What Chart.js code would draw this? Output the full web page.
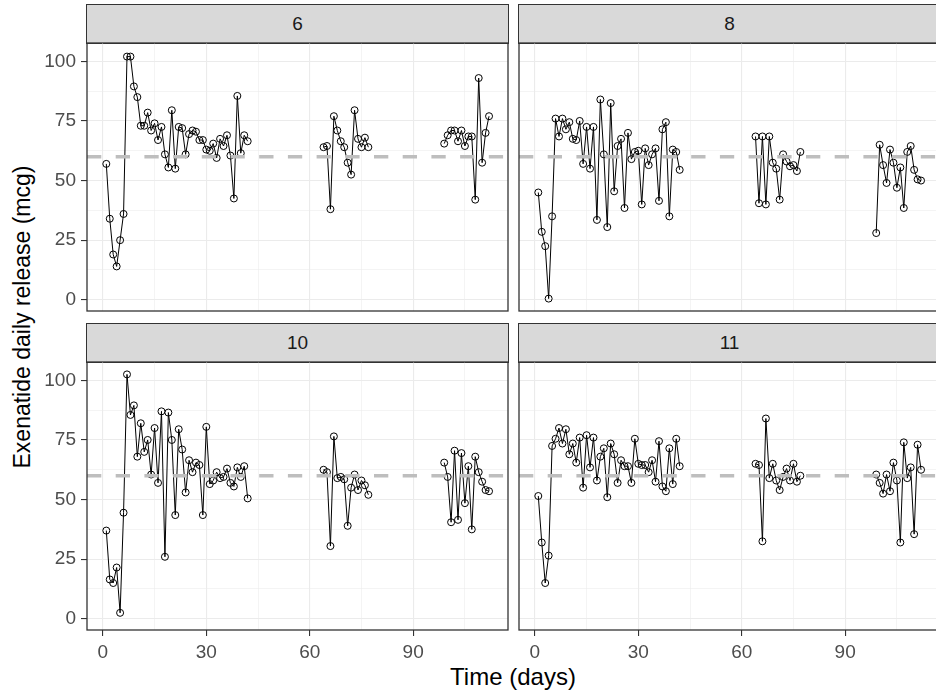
<!DOCTYPE html>
<html>
<head>
<meta charset="utf-8">
<script src="https://cdn.jsdelivr.net/npm/chart.js@4.4.1/dist/chart.umd.min.js"></script>
<style>
  body { margin: 0; width: 936px; height: 690px; overflow: hidden; background: #fff; position: relative;
         font-family: 'Liberation Sans', Arial, sans-serif; }
  .strip { position: absolute; box-sizing: border-box; background: #D9D9D9; border: 1.3px solid #333333;
           color: #1A1A1A; font-size: 19px; display: flex; align-items: center; justify-content: center; }
  canvas { position: absolute; }
  #xtitle { position: absolute; left: 513px; top: 663px; transform: translateX(-50%); font-size: 24px; color: #000; white-space: nowrap; }
  #ytitle { position: absolute; left: 22px; top: 317px; transform: translate(-50%, -50%) rotate(-90deg); font-size: 23px; color: #000; white-space: nowrap; }
</style>
</head>
<body>
<div id="xtitle">Time (days)</div>
<div id="ytitle">Exenatide daily release (mcg)</div>
<script>
// sampling days (three release periods)
const days = [1, 2, 3, 4, 5, 6, 7, 8, 9, 10, 11, 12, 13, 14, 15, 16, 17, 18, 19, 20, 21,
              22, 23, 24, 25, 26, 27, 28, 29, 30, 31, 32, 33, 34, 35, 36, 37, 38, 39, 40, 41, 42,
              64, 65, 66, 67, 68, 69, 70, 71, 72, 73, 74, 75, 76, 77,
              99, 100, 101, 102, 103, 104, 105, 106, 107, 108, 109, 110, 111, 112];

const panelIds = ['6', '8', '10', '11'];

const release6 = [57, 34, 19, 14, 25, 36, 102, 102, 89.5, 85,
                  73, 73, 78.5, 71, 74, 67, 72.5, 61, 55.5, 79.5,
                  55, 72.5, 72, 61, 69.5, 71, 70.5, 67, 67, 63,
                  62.5, 65.5, 59.5, 67.5, 64.5, 69, 60.5, 42.5, 85.5, 61.5, 69, 66.5,
                  64, 64.5, 38, 77, 71, 66.5, 64, 57.5, 52.5, 79.5, 67.5, 64, 68, 64,
                  65.5, 69, 71, 71, 66.5, 71, 64.5, 68.5, 68.5, 42, 93, 57.5, 70, 77];

const release8 = [45, 28.5, 22.5, 0.5, 35, 76, 68.5, 76, 71.5, 74.5,
                  67.5, 67, 75, 57, 72.5, 55, 72.5, 33.5, 84, 61,
                  30.5, 82.5, 45.5, 64.5, 67.5, 38.5, 70, 59, 62, 62.5,
                  40, 63.5, 56.5, 61, 63.5, 41.5, 71.5, 74.5, 35, 63, 62, 54.5,
                  68.5, 40.5, 68.5, 40, 68.5, 57.5, 55, 42, 61, 58, 56, 56.5, 54, 62,
                  28, 65, 56.5, 49, 63, 57.5, 47, 55.5, 38.5, 62, 64.5, 54.5, 50.5, 50];

const release10 = [37, 16.5, 15, 21.5, 2.5, 44.5, 102.5, 85.5, 89.5, 68,
                   82, 70, 75, 60.5, 80, 57, 87, 26, 86.5, 75,
                   43.5, 79.5, 71, 53, 66.5, 61.5, 65.5, 64.5, 43.5, 80.5,
                   56.5, 58, 61.5, 59, 59.5, 63, 57, 55.5, 63.5, 59.5, 64, 50.5,
                   62.5, 61.5, 30.5, 76.5, 59, 59.5, 58.5, 39, 55, 60.5, 54, 58, 56, 52,
                   65.5, 59.5, 40.5, 70.5, 41.5, 69.5, 48.5, 64, 37.5, 68, 61.5, 57.5, 54, 53.5];

const release11 = [51.5, 32, 15, 26.5, 72.5, 75.5, 80, 73.5, 79.5, 69,
                   73.5, 65.5, 76, 55, 77, 63.5, 76, 58, 68, 71.5,
                   51, 73.5, 69, 57, 66.5, 64, 64, 57, 75.5, 65,
                   64.5, 64.5, 61.5, 66.5, 57.5, 74.5, 55.5, 53.5, 71.5, 56.5, 75.5, 64,
                   65, 64.5, 32.5, 84, 59, 65, 58, 54, 59.5, 63, 58, 65, 57.5, 60,
                   60.5, 57, 52.5, 60.5, 53.5, 65.5, 58, 32, 74, 59, 63.5, 35.5, 73, 62.5];

const targetRelease = 60;

const xTicks = [0, 15, 30, 45, 60, 75, 90, 105];
const xLabels = [0, 30, 60, 90];
const yTicks = [0, 12.5, 25, 37.5, 50, 62.5, 75, 87.5, 100];
const yLabels = [0, 25, 50, 75, 100];

const X_MIN = -4.6, X_MAX = 117.5;
const Y_MIN = -4.7, Y_MAX = 107.7;
const FONT = "'Liberation Sans', Arial, sans-serif";

// split a series wherever the days jump, so each period gets its own line
function splitPeriods(values) {
    const groups = [];
    let cur = [];
    days.forEach((d, i) => {
        if (i > 0 && d - days[i - 1] > 1) {
            groups.push(cur);
            cur = [];
        }
        cur.push({ x: d, y: values[i] });
    });
    groups.push(cur);
    return groups;
}

const panelBorder = {
    id: 'panelBorder',
    afterDraw(chart) {
        const { ctx, chartArea: a } = chart;
        ctx.save();
        ctx.strokeStyle = '#333333';
        ctx.lineWidth = 1.3;
        ctx.strokeRect(a.left, a.top, a.right - a.left, a.bottom - a.top);
        ctx.restore();
    }
};

function makePanel(label, values, col, row) {
    const areaLeft = col === 0 ? 87 : 519;
    const areaTop = row === 0 ? 43 : 362;
    const stripTop = row === 0 ? 4 : 323;
    const areaW = 421, areaH = 268;
    const yAxisW = col === 0 ? 60 : 0;
    const xAxisH = row === 1 ? 60 : 0;
    const pad = 3;

    const strip = document.createElement('div');
    strip.className = 'strip';
    strip.style.left = (areaLeft - 0.65) + 'px';
    strip.style.top = stripTop + 'px';
    strip.style.width = (areaW + 1.3) + 'px';
    strip.style.height = (areaTop + 0.65 - stripTop) + 'px';
    strip.textContent = label;
    document.body.appendChild(strip);

    const padLeft = col === 1 ? pad : 0;
    const padBottom = row === 0 ? pad : 0;
    const canvas = document.createElement('canvas');
    const w = areaW + yAxisW + padLeft + pad;
    const h = areaH + xAxisH + pad + padBottom;
    canvas.width = w;
    canvas.height = h;
    canvas.style.width = w + 'px';
    canvas.style.height = h + 'px';
    canvas.style.left = (areaLeft - yAxisW - padLeft) + 'px';
    canvas.style.top = (areaTop - pad) + 'px';
    document.body.appendChild(canvas);

    const datasets = splitPeriods(values).map(g => ({
        data: g,
        borderColor: '#000000',
        borderWidth: 1,
        pointRadius: 3.5,
        pointBorderWidth: 1,
        pointBorderColor: '#000000',
        pointBackgroundColor: 'rgba(0,0,0,0)',
        fill: false,
        tension: 0,
        order: 1
    }));
    datasets.push({
        data: [{ x: X_MIN, y: targetRelease }, { x: X_MAX, y: targetRelease }],
        borderColor: '#BEBEBE',
        borderWidth: 3.3,
        borderDash: [14.3, 14.4],
        pointRadius: 0,
        fill: false,
        order: 0
    });

    new Chart(canvas.getContext('2d'), {
        type: 'line',
        data: { datasets: datasets },
        options: {
            responsive: false,
            animation: false,
            devicePixelRatio: 1,
            layout: { autoPadding: false, padding: { top: pad, right: pad, bottom: padBottom, left: padLeft } },
            plugins: { legend: { display: false }, tooltip: { enabled: false } },
            scales: {
                x: {
                    type: 'linear',
                    min: X_MIN,
                    max: X_MAX,
                    afterBuildTicks: s => { s.ticks = xTicks.map(v => ({ value: v })); },
                    afterFit: s => { s.height = xAxisH; s.paddingLeft = 0; s.paddingRight = 0; },
                    border: { display: false },
                    grid: {
                        color: '#EBEBEB',
                        lineWidth: c => xLabels.includes(c.tick.value) ? 1.1 : 0.55,
                        drawTicks: row === 1,
                        tickLength: 6,
                        tickWidth: 1.1,
                        tickColor: c => xLabels.includes(c.tick.value) ? '#333333' : 'rgba(0,0,0,0)'
                    },
                    ticks: {
                        display: row === 1,
                        autoSkip: false,
                        maxRotation: 0,
                        padding: 5,
                        color: '#4D4D4D',
                        font: { size: 19, family: FONT },
                        callback: v => xLabels.includes(v) ? v : ''
                    }
                },
                y: {
                    min: Y_MIN,
                    max: Y_MAX,
                    afterBuildTicks: s => { s.ticks = yTicks.map(v => ({ value: v })); },
                    afterFit: s => { s.width = yAxisW; s.paddingTop = 0; s.paddingBottom = 0; },
                    border: { display: false },
                    grid: {
                        color: '#EBEBEB',
                        lineWidth: c => yLabels.includes(c.tick.value) ? 1.1 : 0.55,
                        drawTicks: col === 0,
                        tickLength: 6,
                        tickWidth: 1.1,
                        tickColor: c => yLabels.includes(c.tick.value) ? '#333333' : 'rgba(0,0,0,0)'
                    },
                    ticks: {
                        display: col === 0,
                        autoSkip: false,
                        padding: 5,
                        color: '#4D4D4D',
                        font: { size: 19, family: FONT },
                        callback: v => yLabels.includes(v) ? v : ''
                    }
                }
            }
        },
        plugins: [panelBorder]
    });
}

makePanel(panelIds[0], release6, 0, 0);
makePanel(panelIds[1], release8, 1, 0);
makePanel(panelIds[2], release10, 0, 1);
makePanel(panelIds[3], release11, 1, 1);
</script>
</body>
</html>
